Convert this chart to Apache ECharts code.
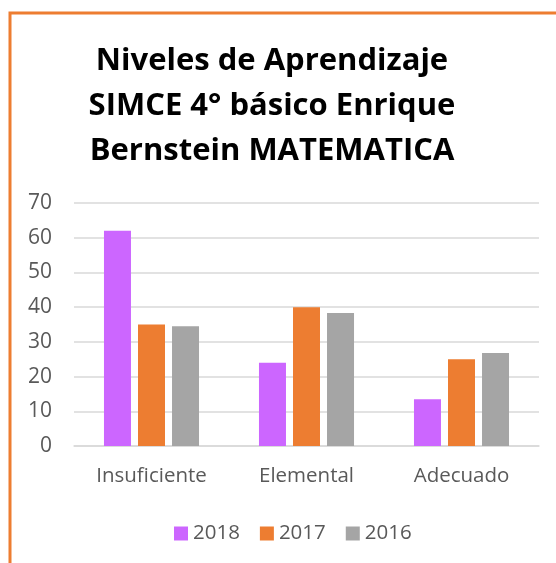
<!DOCTYPE html>
<html>
<head>
<meta charset="utf-8">
<script src="https://cdn.jsdelivr.net/npm/echarts@6/dist/echarts.min.js"></script>
<style>
  html, body { margin: 0; padding: 0; background: #fff; }
  #chart { width: 556px; height: 563px; }
</style>
</head>
<body>
<div id="chart"></div>
<script>
// Niveles de aprendizaje SIMCE 4° básico - Matemática

const categorias = ['Insuficiente', 'Elemental', 'Adecuado'];
const anios = ['2018', '2017', '2016'];
const valores2018 = [62, 24, 13.5];
const valores2017 = [35, 40, 25];
const valores2016 = [34.5, 38.3, 26.8];
const colores = ['#CC66FF', '#ED7D31', '#A5A5A5'];

const domNiveles = document.getElementById('chart');
const myChartNiveles = echarts.init(domNiveles);

const serieDatos = [valores2018, valores2017, valores2016];

const option = {
    backgroundColor: '#fff',
    animation: false,
    title: {
        text: 'Niveles de Aprendizaje\nSIMCE 4° básico Enrique\nBernstein MATEMATICA',
        left: 267,
        top: 34,
        textAlign: 'center',
        textStyle: {
            fontFamily: 'Open Sans',
            fontWeight: 'bold',
            fontSize: 31,
            lineHeight: 45,
            color: '#000'
        }
    },
    legend: {
        top: 518,
        left: 169,
        itemWidth: 14,
        itemHeight: 14,
        itemGap: 20,
        icon: 'rect',
        textStyle: {
            fontFamily: 'Open Sans',
            fontSize: 20.5,
            color: '#595959'
        },
        data: anios
    },
    grid: {
        left: 74,
        right: 17,
        top: 203,
        bottom: 117
    },
    xAxis: {
        type: 'category',
        data: categorias,
        axisLine: { lineStyle: { color: '#D9D9D9', width: 1.5 } },
        axisTick: { show: false },
        axisLabel: {
            fontFamily: 'Open Sans',
            fontSize: 20.5,
            color: '#595959',
            margin: 20
        }
    },
    yAxis: {
        type: 'value',
        min: 0,
        max: 70,
        interval: 10,
        axisLine: { show: false },
        axisTick: { show: false },
        splitLine: { lineStyle: { color: '#D9D9D9', width: 1.5 } },
        axisLabel: {
            fontFamily: 'Open Sans',
            fontSize: 21,
            color: '#595959',
            margin: 22
        }
    },
    graphic: [
        {
            type: 'polyline',
            shape: { points: [[10, 563], [10, 13], [556, 13]] },
            style: { stroke: '#ED7D31', lineWidth: 3, fill: null }
        }
    ],
    series: anios.map((anio, i) => ({
        name: anio,
        type: 'bar',
        barWidth: 27,
        barGap: '26%',
        itemStyle: { color: colores[i] },
        data: serieDatos[i]
    }))
};

myChartNiveles.setOption(option);
</script>
</body>
</html>
